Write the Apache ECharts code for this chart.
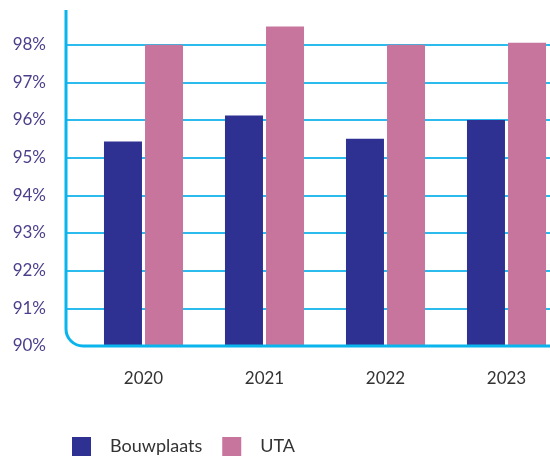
<!DOCTYPE html>
<html>
<head>
<meta charset="utf-8">
<style>
  html, body { margin: 0; padding: 0; background: #fff; }
  #chart { width: 550px; height: 459px; }
</style>
<script src="https://cdn.jsdelivr.net/npm/echarts@6/dist/echarts.min.js"></script>
</head>
<body>
<div id="chart"></div>
<script>
const years = ['2020', '2021', '2022', '2023'];
const bouwplaats = [95.43, 96.12, 95.5, 96.0];
const uta = [98.0, 98.48, 98.0, 98.05];
const seriesNames = ['Bouwplaats', 'UTA'];

const chart = echarts.init(document.getElementById('chart'));

// plot area edges (axis line with rounded corner is drawn by hand)
const axisLeft = 66;
const axisTop = 10;
const axisBottom = 346;
const cornerR = 17;
const cyan = '#0ab4ec';
const font = 'Lato, "Open Sans", sans-serif';

chart.setOption({
  animation: false,
  grid: [
    // gridlines + y labels
    { left: axisLeft, right: 0, top: 7, bottom: 459 - axisBottom },
    // bars, shifted right and running past the window edge like the original
    {
      left: 83,
      width: 484,
      top: 7,
      bottom: 459 - axisBottom,
      outerBoundsMode: 'none',
    },
  ],
  xAxis: [
    { gridIndex: 0, type: 'category', data: years, show: false },
    {
      gridIndex: 1,
      type: 'category',
      data: years,
      axisLine: { show: false },
      axisTick: { show: false },
      axisLabel: {
        margin: 24,
        fontSize: 17,
        fontFamily: font,
        color: '#333',
      },
    },
  ],
  yAxis: [
    {
      gridIndex: 0,
      type: 'value',
      min: 90,
      max: 99,
      interval: 1,
      axisLine: { show: false },
      axisTick: { show: false },
      axisLabel: {
        margin: 20,
        fontSize: 17,
        fontFamily: font,
        color: '#4b3f8c',
        showMaxLabel: false,
        formatter: (v) => v + '%',
      },
      splitLine: {
        showMaxLine: false,
        showMinLine: false,
        lineStyle: { color: '#2bbbec', width: 2 },
      },
    },
    { gridIndex: 1, type: 'value', min: 90, max: 99, show: false },
  ],
  legend: {
    left: 67,
    top: 432,
    itemWidth: 19,
    itemHeight: 19,
    itemGap: 20,
    icon: 'rect',
    data: seriesNames,
    textStyle: {
      fontSize: 18,
      fontFamily: font,
      color: '#333',
      padding: [0, 0, 0, 14],
    },
  },
  graphic: [
    {
      type: 'line',
      shape: { x1: axisLeft, y1: axisTop, x2: axisLeft, y2: axisBottom - cornerR },
      style: { stroke: cyan, lineWidth: 3 },
      z: 10,
    },
    {
      type: 'arc',
      shape: {
        cx: axisLeft + cornerR,
        cy: axisBottom - cornerR,
        r: cornerR,
        startAngle: Math.PI / 2,
        endAngle: Math.PI,
      },
      style: { stroke: cyan, lineWidth: 3, fill: null },
      z: 10,
    },
    {
      type: 'line',
      shape: { x1: axisLeft + cornerR, y1: axisBottom, x2: 550, y2: axisBottom },
      style: { stroke: cyan, lineWidth: 3 },
      z: 10,
    },
  ],
  series: [
    {
      name: seriesNames[0],
      type: 'bar',
      xAxisIndex: 1,
      yAxisIndex: 1,
      barWidth: 38,
      barGap: '8%',
      itemStyle: { color: '#2e3192' },
      data: bouwplaats,
    },
    {
      name: seriesNames[1],
      type: 'bar',
      xAxisIndex: 1,
      yAxisIndex: 1,
      barWidth: 38,
      barGap: '8%',
      itemStyle: { color: '#c8759d' },
      data: uta,
    },
  ],
});
</script>
</body>
</html>
